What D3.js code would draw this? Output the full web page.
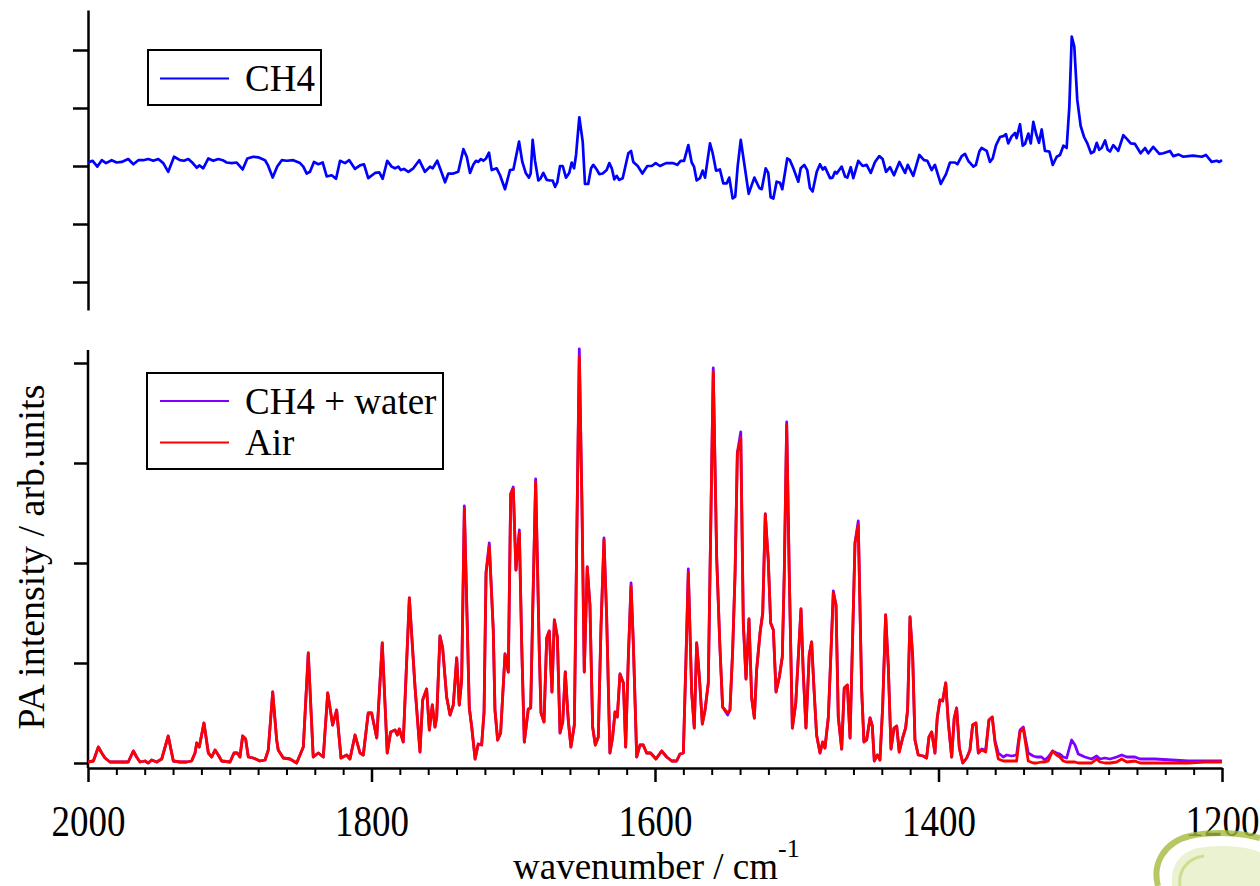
<!DOCTYPE html>
<html><head><meta charset="utf-8">
<script src="https://cdn.jsdelivr.net/npm/d3@7"></script>
<style>
body{margin:0;background:#fff}
svg{display:block}
text{font-family:"Liberation Serif","Times New Roman","DejaVu Serif",serif;fill:#000}
</style>
</head><body><svg id="chart" width="1260" height="886"></svg>
<script>
// ---------- data ----------
const xTickValues = [2000, 1800, 1600, 1400, 1200];
const xTickLabels = ["2000", "1800", "1600", "1400", "1200"];
const topTickValues = [-2, -1, 0, 1, 2];
const bottomTickValues = [0, 1, 2, 3, 4];

const ch4Wn = [2000,1996.7,1993.4,1990.3,1987.3,1983.3,1979.8,1976.2,1971.6,1968,1964.5,1961,1957.5,1953.9,1950.4,
1946.9,1943.4,1939.3,1935.1,1932.3,1929.2,1926.1,1923.3,1921.5,1918.7,1915.1,1911.6,1908.1,1905,1902.2,
1898.6,1895.1,1890.9,1887.6,1883.4,1879.9,1875.1,1873.2,1869.7,1866.5,1863.3,1859.8,1855.2,1850.4,1848.1,
1845.7,1843.4,1840.6,1837.5,1834.4,1831.6,1828.1,1825,1822.2,1818.7,1815.7,1811.6,1808.1,1805.3,1802.3,
1797.5,1794.5,1792.1,1788.9,1785.8,1783.4,1781.1,1779.4,1777.1,1774,1770.5,1766.3,1762.3,1758.7,1756.8,
1753.6,1751.2,1748.1,1745.8,1742.3,1738.8,1735.2,1732.8,1730.5,1728.2,1726.3,1724.7,1722.8,1721.1,1719.2,
1717.1,1715.2,1711.7,1709.3,1705.8,1702.3,1699.9,1695.9,1693.6,1691.2,1688.9,1687.7,1686.3,1684.7,1682.3,
1680.6,1678.8,1676.4,1674.1,1672.2,1670.5,1668.9,1667,1665.1,1662.8,1660.5,1658.8,1657.1,1655.7,1653.4,
1651,1649.4,1647.1,1645.1,1643.5,1641.1,1639.3,1636.9,1634.1,1632.2,1630.5,1628.7,1627,1625.2,1622.8,
1618.8,1616.9,1615.3,1612.2,1608.9,1605.4,1602.3,1599.5,1596.5,1592.2,1587.5,1584.3,1581.9,1579.5,1576.5,
1574.1,1572.5,1570.6,1568.3,1566.4,1564.7,1561.2,1559.3,1556.9,1554.2,1551.8,1549.4,1547.6,1545.2,1543.4,
1541.7,1539.5,1537.2,1533.9,1531.8,1529.9,1526.4,1524.7,1521.9,1520.1,1518.4,1516.5,1514.2,1511.8,1510.2,
1506.7,1504.8,1502.4,1498.9,1497.2,1494.7,1492.6,1490.7,1488.8,1485.9,1483.6,1481.7,1480.1,1476.5,1474.7,
1473,1471.8,1468.3,1465.9,1464.3,1461.9,1460.1,1456.6,1453.5,1450.7,1447.8,1444.8,1441.8,1439.4,1437,
1434.2,1431.4,1427.6,1423.6,1421.7,1417.8,1413.5,1410.2,1407.9,1404.8,1402.5,1398.4,1394.7,1391.9,1388.4,
1386.7,1383.6,1381.3,1379,1375.4,1373.6,1371.2,1369.6,1366,1363.7,1361.8,1359.4,1356.6,1353.8,1352.4,
1350.8,1348.4,1346,1344.9,1342.5,1340.6,1339,1336.6,1334.9,1333.1,1331.2,1329.1,1327.2,1324.9,1321.8,
1319.4,1316.6,1314.3,1311.9,1309.6,1307.7,1306,1304.2,1302.1,1299.7,1297.3,1295,1292.4,1290.3,1288.4,
1286.6,1284.9,1282.5,1280.6,1279,1276.7,1273.2,1269.6,1266.8,1264.4,1261.4,1257.4,1254.3,1252,1248.5,
1244.2,1241.4,1236.7,1234.3,1230.8,1227.3,1223.8,1220.3,1214.3,1211.3,1207.3,1203.7,1201.9,1200];
const ch4Values = [0.06,0.09,-0.01,0.10,0.05,0.10,0.06,0.07,0.12,0.03,0.10,0.10,0.12,0.09,0.12,
0.05,-0.10,0.16,0.10,0.09,0.12,0.05,-0.03,0.01,-0.04,0.13,0.09,0.12,0.10,0.06,
0.05,0.06,-0.06,0.13,0.16,0.15,0.10,0.02,-0.20,-0.01,0.10,0.09,0.10,0.05,-0.01,
-0.13,-0.10,0.07,0.03,0.06,-0.18,-0.16,-0.22,0.09,0.05,0.10,-0.05,0.01,0.03,-0.21,
-0.12,-0.11,-0.22,0.09,-0.01,-0.04,-0.01,-0.07,-0.05,-0.10,-0.04,0.10,-0.10,-0.01,-0.04,
0.09,-0.07,-0.28,-0.13,-0.13,-0.10,0.29,0.16,-0.12,0.02,0.09,0.07,0.12,0.09,0.13,
0.23,-0.07,-0.04,-0.16,-0.40,-0.07,-0.06,0.42,0.07,-0.12,-0.20,-0.13,0.45,0.10,-0.25,
-0.21,-0.12,-0.24,-0.25,-0.25,-0.36,-0.28,0.00,0.00,-0.20,-0.12,0.06,-0.04,0.19,0.84,
0.42,-0.31,-0.31,-0.04,0.02,-0.06,-0.14,-0.13,-0.07,0.05,-0.04,-0.23,-0.17,-0.24,-0.21,
0.22,0.26,0.07,0.00,-0.13,0.00,0.00,0.05,0.00,0.05,0.05,0.02,0.09,0.09,0.36,
0.06,-0.01,-0.25,-0.21,-0.08,-0.20,0.39,0.22,-0.08,-0.06,-0.30,-0.30,-0.20,-0.56,-0.53,
-0.01,0.45,0.07,-0.48,-0.33,-0.20,-0.38,-0.40,-0.04,-0.12,-0.54,-0.56,-0.27,-0.29,-0.40,
0.13,0.10,-0.04,-0.27,-0.04,0.02,-0.07,-0.38,-0.44,-0.10,0.03,-0.06,-0.02,-0.21,-0.20,
-0.10,-0.13,-0.01,-0.18,-0.20,-0.02,-0.21,0.09,0.00,0.02,-0.12,0.07,0.17,0.12,-0.10,
-0.02,-0.16,0.07,-0.12,0.02,-0.17,0.19,0.10,0.09,-0.07,0.02,-0.31,-0.14,0.06,0.06,
0.03,0.17,0.21,0.09,-0.01,0.02,0.25,0.31,0.26,0.07,0.13,0.36,0.50,0.52,0.55,
0.39,0.51,0.57,0.48,0.72,0.35,0.38,0.56,0.39,0.76,0.56,0.40,0.63,0.26,0.25,
0.02,0.16,0.19,0.35,0.31,1.02,2.23,2.06,1.14,0.69,0.50,0.39,0.22,0.25,0.40,
0.28,0.31,0.44,0.28,0.25,0.36,0.26,0.53,0.46,0.39,0.38,0.22,0.31,0.22,0.33,
0.21,0.22,0.26,0.17,0.20,0.16,0.17,0.18,0.16,0.19,0.07,0.09,0.07,0.10];

const bottomWn = [2000,1996.2,1992.7,1990.3,1988,1984.5,1971.6,1968,1965.7,1963.3,1959.8,1957.5,1955.1,1951.5,1948,
1943.4,1939.8,1935.1,1930.4,1926.9,1924.5,1923.3,1921.5,1918.2,1915.1,1912.7,1910.4,1908.1,1905.7,1899.8,
1897,1894.7,1892.8,1890.9,1888.8,1886.9,1883.4,1878.7,1875.1,1872.8,1869.7,1866.9,1865.8,1862.2,1857.5,
1852.8,1848.1,1844.6,1841.1,1837.5,1834,1830.9,1827.4,1824.6,1821.5,1817.5,1815.2,1811.6,1808.1,1805.8,
1802.3,1799.9,1796.3,1792.4,1788.9,1786.5,1783.4,1781.8,1780.4,1777.6,1773.3,1769.3,1765.8,1763.9,1761.1,
1759.2,1757.1,1755.2,1754,1751.7,1749.8,1747,1744.6,1742.3,1739.9,1738.1,1736.4,1734.5,1731,1729.3,
1726.9,1724.7,1722.3,1720.6,1719.2,1716.9,1714.1,1712.9,1711,1708.9,1705.8,1703.5,1701.8,1700,1698.1,
1695.7,1694,1692.2,1689.4,1687.7,1686.3,1684.2,1681.6,1680.4,1678.3,1676.4,1674.6,1672.7,1671,1668.9,
1667,1665.1,1663.3,1661.2,1659.3,1656.9,1655.2,1653.4,1651.5,1649.9,1647.8,1645.9,1644,1642.1,1640,
1638.1,1636,1634.1,1631.8,1629.9,1628.2,1626.6,1624.7,1622.3,1620.7,1618.8,1616.9,1615.3,1612.9,1610.6,
1608.3,1605.9,1603.1,1599.3,1595.3,1591.7,1588.2,1584.7,1582.4,1580,1578.1,1576.5,1574.1,1572.3,1570.6,
1568.7,1566.6,1564.7,1562.4,1561.2,1558.9,1556.5,1554.2,1552.3,1548.7,1547.1,1545.2,1543.5,1541.9,1539.5,
1537.7,1535.8,1533.7,1531.8,1529.9,1528.3,1525.9,1524,1522.2,1520.1,1518.4,1516.5,1514.6,1512.3,1510.2,
1508.8,1507.1,1505.3,1503.1,1500.7,1498.9,1497,1495.4,1493.5,1491.2,1489.5,1487.9,1486,1483.6,1481.7,
1480.1,1477.7,1475.8,1474.2,1472.3,1470.7,1468.3,1466.5,1464.3,1462.4,1458.9,1456.6,1454.2,1452.6,1450.7,
1448.3,1446.7,1445.3,1443.2,1441.3,1439.4,1437.3,1435.4,1433.5,1431.4,1429.5,1427.7,1425.3,1423.2,1421.8,
1420.1,1418.2,1416.6,1414.3,1410.8,1408.4,1406.7,1404.8,1402.5,1400.9,1399,1397.1,1394.9,1393.1,1390.7,
1388.9,1387.2,1385.3,1382.9,1380.1,1377.8,1375.9,1373.6,1371.9,1369.5,1366.7,1364.4,1362.1,1360.1,1357.8,
1354.3,1351.9,1348.4,1344.9,1342.5,1340.2,1336.7,1333.2,1330.8,1327.3,1324.9,1322.6,1319.5,1316.7,1314.4,
1312,1309.6,1306.1,1303.7,1301.4,1296.7,1292,1288.4,1286.1,1282.6,1279,1274.3,1270.8,1267.2,1261.4,
1257.8,1247.3,1235.5,1223.8,1212,1200];

const airValues = [0.01,0.02,0.16,0.10,0.05,0.01,0.01,0.12,0.06,0.01,0.02,0.00,0.03,0.01,0.04,
0.27,0.02,0.01,0.01,0.02,0.10,0.20,0.16,0.40,0.10,0.06,0.13,0.08,0.02,0.01,
0.10,0.10,0.06,0.27,0.24,0.06,0.05,0.02,0.03,0.13,0.71,0.23,0.13,0.05,0.04,
0.00,0.16,1.10,0.06,0.10,0.06,0.70,0.38,0.53,0.05,0.08,0.04,0.28,0.10,0.08,
0.50,0.50,0.25,1.20,0.10,0.31,0.33,0.28,0.34,0.21,1.65,0.76,0.11,0.63,0.74,
0.33,0.58,0.36,0.46,1.27,1.15,0.66,0.48,0.58,1.05,0.58,0.83,2.54,0.55,0.36,
0.04,0.19,0.18,0.51,1.90,2.17,1.33,0.53,0.23,0.30,1.09,0.91,2.69,2.74,1.93,
2.30,1.16,0.21,0.54,0.55,1.50,2.81,1.10,0.50,0.41,1.25,1.32,0.71,1.43,1.26,
0.30,0.41,0.91,0.43,0.16,0.38,2.23,4.06,2.56,0.91,1.96,1.58,0.36,0.18,0.26,
1.36,2.23,1.46,0.10,0.26,0.51,0.46,0.89,0.80,0.16,1.06,1.77,1.20,0.06,0.18,
0.18,0.10,0.10,0.04,0.12,0.06,0.02,0.02,0.09,0.10,1.06,1.90,0.70,0.35,1.20,
0.86,0.39,0.53,0.80,1.90,3.91,2.06,1.16,0.56,0.50,0.53,1.13,1.90,3.10,3.25,
1.40,0.84,1.44,0.65,0.45,0.93,1.30,1.50,2.49,2.03,1.40,1.33,0.71,0.86,1.06,
1.90,3.38,1.90,0.35,0.60,1.06,1.54,0.90,0.35,1.08,1.21,0.76,0.28,0.10,0.21,
0.15,0.46,1.13,1.70,1.58,0.46,0.14,0.75,0.78,0.25,2.20,2.38,0.73,0.21,0.23,
0.45,0.37,0.02,0.08,0.03,0.56,1.48,0.96,0.14,0.35,0.37,0.11,0.25,0.35,0.53,
1.46,1.06,0.23,0.08,0.07,0.05,0.26,0.31,0.10,0.45,0.63,0.62,0.80,0.41,0.06,
0.45,0.55,0.15,0.00,0.05,0.13,0.38,0.40,0.10,0.13,0.11,0.43,0.46,0.20,0.04,
0.02,0.02,0.02,0.02,0.31,0.35,0.02,0.00,0.00,0.01,0.01,0.02,0.12,0.08,0.06,
0.02,0.01,0.01,0.01,0.00,0.00,0.00,0.04,0.01,0.00,0.00,0.01,0.04,0.01,0.02,
0.00,0.00,0.00,0.00,0.01,0.01];

const ch4WaterValues = [0.01,0.02,0.16,0.10,0.05,0.01,0.01,0.12,0.06,0.01,0.02,0.00,0.03,0.01,0.04,
0.27,0.02,0.01,0.01,0.02,0.10,0.20,0.16,0.40,0.10,0.06,0.13,0.08,0.02,0.01,
0.10,0.10,0.06,0.27,0.24,0.06,0.05,0.02,0.03,0.13,0.71,0.23,0.13,0.05,0.04,
0.00,0.16,1.10,0.06,0.10,0.06,0.70,0.38,0.53,0.05,0.08,0.04,0.28,0.10,0.08,
0.50,0.50,0.25,1.20,0.10,0.31,0.33,0.28,0.34,0.21,1.65,0.76,0.11,0.63,0.74,
0.33,0.58,0.36,0.46,1.27,1.15,0.66,0.48,0.58,1.05,0.58,0.83,2.57,0.55,0.36,
0.04,0.19,0.18,0.51,1.90,2.20,1.33,0.53,0.23,0.30,1.09,0.91,2.69,2.76,1.93,
2.33,1.16,0.21,0.54,0.55,1.50,2.84,1.10,0.50,0.41,1.25,1.32,0.71,1.43,1.26,
0.30,0.41,0.91,0.43,0.16,0.38,2.23,4.14,2.56,0.91,1.96,1.58,0.36,0.18,0.26,
1.36,2.25,1.46,0.10,0.26,0.51,0.46,0.89,0.80,0.16,1.06,1.80,1.20,0.06,0.18,
0.18,0.10,0.10,0.04,0.12,0.06,0.02,0.02,0.09,0.10,1.06,1.94,0.70,0.35,1.20,
0.86,0.39,0.53,0.80,1.90,3.95,2.06,1.16,0.56,0.48,0.53,1.13,1.90,3.10,3.31,
1.40,0.84,1.44,0.65,0.45,0.93,1.30,1.50,2.49,2.03,1.40,1.33,0.71,0.86,1.06,
1.90,3.41,1.90,0.35,0.60,1.06,1.54,0.90,0.35,1.08,1.21,0.76,0.28,0.10,0.21,
0.15,0.46,1.13,1.72,1.58,0.46,0.14,0.75,0.78,0.25,2.20,2.42,0.73,0.21,0.23,
0.45,0.37,0.02,0.08,0.03,0.56,1.48,0.96,0.14,0.35,0.37,0.11,0.25,0.35,0.53,
1.46,1.06,0.23,0.08,0.07,0.05,0.26,0.31,0.10,0.45,0.63,0.62,0.80,0.41,0.06,
0.45,0.55,0.15,0.00,0.05,0.13,0.38,0.40,0.10,0.14,0.13,0.43,0.46,0.22,0.10,
0.06,0.08,0.07,0.08,0.33,0.36,0.10,0.07,0.06,0.06,0.03,0.06,0.12,0.10,0.09,
0.06,0.05,0.23,0.18,0.09,0.06,0.04,0.07,0.04,0.05,0.04,0.06,0.08,0.06,0.06,
0.04,0.04,0.03,0.02,0.02,0.02];

const legendTop = ["CH4"];
const legendBottom = ["CH4 + water", "Air"];
const yAxisTitle = "PA intensity / arb.units";
const xAxisTitle = "wavenumber / cm";
const xAxisSup = "-1";

// ---------- drawing ----------
const svg = d3.select("#chart");
const SERIF = "'Liberation Serif','Times New Roman','DejaVu Serif',serif";
const x = d3.scaleLinear().domain([2000, 1200]).range([88, 1222]);
const yTop = d3.scaleLinear().domain([-2.4828, 2.6897]).range([310, 10]);
const yBot = d3.scaleLinear().domain([0, 4.13]).range([763, 350]);

const COL_CH4 = "#0000ff", COL_MIX = "#7f00ff", COL_AIR = "#ff0000";

// top y axis
const gTopAxis = svg.append("g").attr("transform", "translate(88,0)")
  .call(d3.axisLeft(yTop).tickValues(topTickValues).tickSize(15).tickSizeOuter(0).tickFormat(""));
gTopAxis.selectAll("path,line").attr("stroke", "#000").attr("stroke-width", 2.5);

// bottom y axis
const gBotAxis = svg.append("g").attr("transform", "translate(88,0)")
  .call(d3.axisLeft(yBot).tickValues(bottomTickValues).tickSize(14).tickSizeOuter(0).tickFormat(""));
gBotAxis.selectAll("path,line").attr("stroke", "#000").attr("stroke-width", 2.5);
gBotAxis.select(".domain").attr("d", "M0,350V768");

// x axis minor
const minorTicks = d3.range(2000, 1199, -20).filter(v => !xTickValues.includes(v));
const gMinor = svg.append("g").attr("transform", "translate(0,768)")
  .call(d3.axisBottom(x).tickValues(minorTicks).tickSize(7).tickSizeOuter(0).tickFormat(""));
gMinor.selectAll("path,line").attr("stroke", "#000").attr("stroke-width", 2);
gMinor.select(".domain").remove();

const gX = svg.append("g").attr("transform", "translate(0,768)")
  .call(d3.axisBottom(x).tickValues(xTickValues).tickSize(14).tickSizeOuter(0)
    .tickFormat((d, i) => xTickLabels[i]));
gX.selectAll("path,line").attr("stroke", "#000").attr("stroke-width", 2.5);
gX.selectAll(".tick text")
  .attr("y", null).attr("dy", null)
  .attr("transform", "translate(0,68) scale(1,1.2)")
  .attr("font-size", 37).attr("font-family", SERIF).attr("fill", "#000");

// lines
const lineGen = (xs, ys, yScale) => d3.line().x((d, i) => x(xs[i])).y((d, i) => yScale(ys[i]))(xs);

svg.append("path").attr("d", lineGen(ch4Wn, ch4Values, yTop))
  .attr("fill", "none").attr("stroke", COL_CH4).attr("stroke-width", 2.7).attr("stroke-linejoin", "round");
svg.append("path").attr("d", lineGen(bottomWn, ch4WaterValues, yBot))
  .attr("fill", "none").attr("stroke", COL_MIX).attr("stroke-width", 2.8).attr("stroke-linejoin", "round");
svg.append("path").attr("d", lineGen(bottomWn, airValues, yBot))
  .attr("fill", "none").attr("stroke", COL_AIR).attr("stroke-width", 2.8).attr("stroke-linejoin", "round");

// legends
function legend(x0, y0, w, h, items) {
  const g = svg.append("g");
  g.append("rect").attr("x", x0).attr("y", y0).attr("width", w).attr("height", h)
    .attr("fill", "#fff").attr("stroke", "#000").attr("stroke-width", 2);
  items.forEach(it => {
    g.append("line").attr("x1", 160).attr("x2", 229).attr("y1", it.cy).attr("y2", it.cy)
      .attr("stroke", it.color).attr("stroke-width", 2.2);
    g.append("text").attr("x", 245).attr("y", it.cy + 12.5).attr("font-size", 37)
      .attr("font-family", SERIF).text(it.label);
  });
}
legend(148, 50, 173, 55, [{label: legendTop[0], color: COL_CH4, cy: 78.5}]);
legend(147, 373, 296, 96, [
  {label: legendBottom[0], color: COL_MIX, cy: 401},
  {label: legendBottom[1], color: COL_AIR, cy: 442.5}
]);

// axis titles
svg.append("text").attr("transform", "translate(44,557) rotate(-90)")
  .attr("text-anchor", "middle").attr("font-size", 38).attr("font-family", SERIF).text(yAxisTitle);
const xt = svg.append("text").attr("x", 513).attr("y", 879).attr("font-size", 37)
  .attr("font-family", SERIF).text(xAxisTitle);
xt.append("tspan").attr("dy", -22).attr("font-size", 26).text(xAxisSup);

// logo (partial, bottom-right corner)
const logo = svg.append("g").attr("opacity", 0.8);
logo.append("path").attr("d", "M1172,886 C1170,866 1180,852 1198,848 C1220,844 1245,846 1260,852 L1260,886 Z")
  .attr("fill", "#e6f0c8");
logo.append("path").attr("d", "M1158,886 C1152,864 1164,842 1190,836 C1214,831 1242,833 1260,838")
  .attr("fill", "none").attr("stroke", "#a3bb3a").attr("stroke-width", 6);
logo.append("path").attr("d", "M1180,886 C1178,870 1188,858 1204,856")
  .attr("fill", "none").attr("stroke", "#c2d674").attr("stroke-width", 3);
</script>
</body></html>
